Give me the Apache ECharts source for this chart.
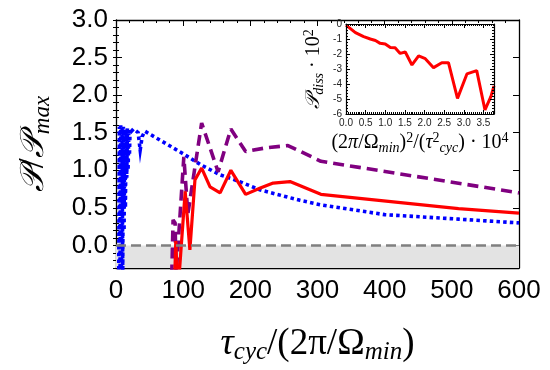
<!DOCTYPE html>
<html>
<head>
<meta charset="utf-8">
<script src="https://cdn.jsdelivr.net/npm/echarts@6/dist/echarts.min.js"></script>
<style>html,body{margin:0;padding:0;background:#fff}#c{width:550px;height:370px}</style>
</head>
<body>
<div id="c"></div>
<script>
// ---- data ----
const xTicksMain = [0, 100, 200, 300, 400, 500, 600];
const yTicksMain = [0.0, 0.5, 1.0, 1.5, 2.0, 2.5, 3.0];

const tauBlue = [4,5,6,7,8,9,10,11,12,13,14,15,16,17,18,19,20,21,23,26,29,33,36,39,43,64,100,127,155,184,214,274,305,400,510,600];
const pBlue   = [-0.5,1.58,-0.5,1.6,-0.5,1.57,-0.4,1.58,0.2,1.55,0.5,1.52,0.9,1.56,1.0,1.5,1.2,1.55,1.52,1.55,1.53,1.5,1.27,1.45,1.52,1.41,1.22,1.07,0.94,0.85,0.74,0.60,0.54,0.41,0.35,0.30];

const tauRed = [87.5,89,91,94,103,110,117.5,127.5,140,155,171,193,214,234,259,305,510,600];
const pRed   = [-0.4,0.06,-0.4,-0.4,0.72,-0.06,0.87,1.03,0.78,0.70,1.0,0.68,0.76,0.83,0.85,0.68,0.49,0.43];

const tauPurple = [83,85,88,89.5,92,101,107,127.5,152,171,193,224,256,305,600];
const pPurple   = [-0.4,0.34,0.3,-0.4,-0.4,1.18,0.42,1.63,0.98,1.55,1.25,1.30,1.33,1.12,0.70];

const insetX = [0,0.24,0.45,0.62,0.75,0.87,1.0,1.13,1.25,1.38,1.51,1.68,1.85,2.02,2.23,2.44,2.61,2.84,3.08,3.33,3.54,3.69,3.77];
const insetY = [-0.07,-0.58,-0.84,-1.0,-1.1,-1.29,-1.33,-1.56,-1.58,-1.96,-1.87,-2.73,-2.13,-2.31,-2.91,-2.58,-2.58,-4.96,-3.33,-3.11,-5.73,-4.84,-4.13];

const shadeBand = [-0.3, 0];
const zeroLevel = 0;

// ---- helpers ----
const zip = (a, b) => a.map((v, i) => [v, b[i]]);
const serif = 'Liberation Serif';
const sans = 'Liberation Sans';

const chart = echarts.init(document.getElementById('c'), null, {renderer: 'canvas'});

const frameLine = {show: true, onZero: false, lineStyle: {color: '#000', width: 1.3}};
const tickIn = (len) => ({show: true, inside: true, length: len, lineStyle: {color: '#000', width: 1}});

const mainNameRich = {
  p: {fontFamily: 'DejaVu Serif', fontStyle: 'italic', fontSize: 33, lineHeight: 40, color: '#000'},
  d: {fontFamily: serif, fontSize: 36, lineHeight: 40, color: '#000'},
  s: {fontFamily: serif, fontStyle: 'italic', fontSize: 23, lineHeight: 12, verticalAlign: 'bottom', color: '#000'}
};
const xNameRich = {
  t: {fontFamily: serif, fontStyle: 'italic', fontSize: 37, lineHeight: 42, color: '#000'},
  n: {fontFamily: serif, fontSize: 37, lineHeight: 42, color: '#000'},
  s: {fontFamily: serif, fontStyle: 'italic', fontSize: 25, lineHeight: 12, verticalAlign: 'bottom', color: '#000'}
};
const insetRich = {
  p: {fontFamily: 'DejaVu Serif', fontStyle: 'italic', fontSize: 20, lineHeight: 24, color: '#000'},
  t: {fontFamily: serif, fontStyle: 'italic', fontSize: 20, lineHeight: 24, color: '#000'},
  n: {fontFamily: serif, fontSize: 20, lineHeight: 24, color: '#000'},
  s: {fontFamily: serif, fontStyle: 'italic', fontSize: 14, lineHeight: 8, verticalAlign: 'bottom', color: '#000'},
  u: {fontFamily: serif, fontSize: 14, lineHeight: 8, verticalAlign: 'top', color: '#000'}
};

const halfStep = v => v >= 0 && Math.abs(v * 2 - Math.round(v * 2)) < 1e-6;

const option = {
  animation: false,
  backgroundColor: '#fff',
  grid: [
    {left: 116, top: 20, width: 403, height: 248, show: false, z: 0},
    {left: 346, top: 24, width: 148, height: 90, show: true, backgroundColor: '#fff', borderWidth: 0, z: 10}
  ],
  xAxis: [
    {gridIndex: 0, type: 'value', min: xTicksMain[0], max: xTicksMain[xTicksMain.length - 1], interval: 100, position: 'bottom',
     axisLine: frameLine, axisTick: tickIn(6), minorTick: {show: true, splitNumber: 5, length: 3, lineStyle: {color: '#000'}},
     splitLine: {show: false},
     axisLabel: {fontFamily: sans, fontSize: 26, color: '#000', margin: 10},
     name: '{t|τ}{s|cyc}{n|/(2π/Ω}{s|min}{n|)}', nameLocation: 'middle', nameGap: 55,
     nameTextStyle: {rich: xNameRich}},
    {gridIndex: 0, type: 'value', min: 0, max: 600, interval: 100, position: 'top',
     axisLine: frameLine, axisTick: tickIn(6), minorTick: {show: true, splitNumber: 5, length: 3, lineStyle: {color: '#000'}},
     splitLine: {show: false}, axisLabel: {show: false}},
    {gridIndex: 1, type: 'value', min: 0, max: 3.77, interval: 0.5, position: 'bottom',
     axisLine: {show: true, onZero: false, lineStyle: {color: '#000', width: 1.2}}, axisTick: tickIn(4),
     minorTick: {show: true, splitNumber: 10, length: 2, lineStyle: {color: '#000'}},
     splitLine: {show: false},
     axisLabel: {fontFamily: sans, fontSize: 10, color: '#222', margin: 4, showMaxLabel: false,
       formatter: v => halfStep(v) ? v.toFixed(1) : ''},
     name: '{n|(2}{t|π}{n|/Ω}{s|min}{n|)}{u|2}{n|/(}{t|τ}{u|2}{s|cyc}{n|) · 10}{u|4}', nameLocation: 'middle', nameGap: 17,
     nameTextStyle: {rich: insetRich}, z: 12},
    {gridIndex: 1, type: 'value', min: 0, max: 3.77, interval: 0.5, position: 'top',
     axisLine: {show: true, onZero: false, lineStyle: {color: '#000', width: 1.2}}, axisTick: tickIn(4),
     minorTick: {show: true, splitNumber: 10, length: 2, lineStyle: {color: '#000'}},
     splitLine: {show: false}, axisLabel: {show: false}, z: 12}
  ],
  yAxis: [
    {gridIndex: 0, type: 'value', min: shadeBand[0], max: yTicksMain[yTicksMain.length - 1], splitNumber: 6, position: 'left',
     axisLine: frameLine, axisTick: tickIn(6), splitLine: {show: false},
     axisLabel: {fontFamily: sans, fontSize: 26, color: '#000', margin: 8, formatter: v => halfStep(v) ? v.toFixed(1) : ''},
     name: '{p|𝒫}{d|/}{p|𝒫}{s|max}', nameLocation: 'middle', nameGap: 62, nameRotate: 90,
     nameTextStyle: {rich: mainNameRich}},
    {gridIndex: 0, type: 'value', min: -0.3, max: 3.0, interval: 0.1, position: 'left', offset: 0,
     axisLine: {show: false}, axisTick: tickIn(3), splitLine: {show: false}, axisLabel: {show: false}},
    {gridIndex: 0, type: 'value', min: -0.3, max: 3.0, splitNumber: 6, position: 'right', offset: 0,
     axisLine: frameLine, axisTick: tickIn(6), splitLine: {show: false}, axisLabel: {show: false}},
    {gridIndex: 0, type: 'value', min: -0.3, max: 3.0, interval: 0.1, position: 'right', offset: 0,
     axisLine: {show: false}, axisTick: tickIn(3), splitLine: {show: false}, axisLabel: {show: false}},
    {gridIndex: 1, type: 'value', min: -6, max: 0, interval: 1, position: 'left',
     axisLine: {show: true, onZero: false, lineStyle: {color: '#000', width: 1.2}}, axisTick: tickIn(4),
     minorTick: {show: true, splitNumber: 5, length: 2, lineStyle: {color: '#000'}},
     splitLine: {show: false},
     axisLabel: {fontFamily: sans, fontSize: 10, color: '#222', margin: 4},
     name: '{p|𝒫}{s|diss}{n| · 10}{u|2}', nameLocation: 'middle', nameGap: 20, nameRotate: 90,
     nameTextStyle: {rich: insetRich}, z: 12},
    {gridIndex: 1, type: 'value', min: -6, max: 0, interval: 1, position: 'right',
     axisLine: {show: true, onZero: false, lineStyle: {color: '#000', width: 1.2}}, axisTick: tickIn(4),
     minorTick: {show: true, splitNumber: 5, length: 2, lineStyle: {color: '#000'}},
     splitLine: {show: false}, axisLabel: {show: false}, z: 12}
  ],
  series: [
    {type: 'line', xAxisIndex: 0, yAxisIndex: 0, data: [[xTicksMain[0], shadeBand[0]]], symbol: 'none',
     lineStyle: {width: 0}, z: 1, silent: true,
     markArea: {silent: true, itemStyle: {color: '#e3e3e3'},
       data: [[{xAxis: xTicksMain[0], yAxis: shadeBand[0]}, {xAxis: xTicksMain[xTicksMain.length - 1], yAxis: shadeBand[1]}]]}},
    {type: 'line', xAxisIndex: 0, yAxisIndex: 0, data: zip(tauBlue, pBlue), symbol: 'none', clip: true, z: 2,
     lineStyle: {color: '#0000ff', width: 3.6, type: [3.5, 3.2], cap: 'butt', join: 'miter'}},
    {type: 'line', xAxisIndex: 0, yAxisIndex: 0, data: zip(tauPurple, pPurple), symbol: 'none', clip: true, z: 2,
     lineStyle: {color: '#800080', width: 3.6, type: [11, 6], cap: 'butt'}},
    {type: 'line', xAxisIndex: 0, yAxisIndex: 0, data: zip(tauRed, pRed), symbol: 'none', clip: true, z: 2,
     lineStyle: {color: '#ff0000', width: 3.2}},
    {type: 'line', xAxisIndex: 0, yAxisIndex: 0, data: [[xTicksMain[0], zeroLevel], [xTicksMain[xTicksMain.length - 1], zeroLevel]],
     symbol: 'none', z: 3, lineStyle: {color: '#808080', width: 2.6, type: [10, 5]}},
    {type: 'line', xAxisIndex: 2, yAxisIndex: 4, data: zip(insetX, insetY), symbol: 'none', clip: false, z: 11,
     lineStyle: {color: '#ff0000', width: 3}}
  ]
};
chart.setOption(option);
</script>
</body>
</html>
